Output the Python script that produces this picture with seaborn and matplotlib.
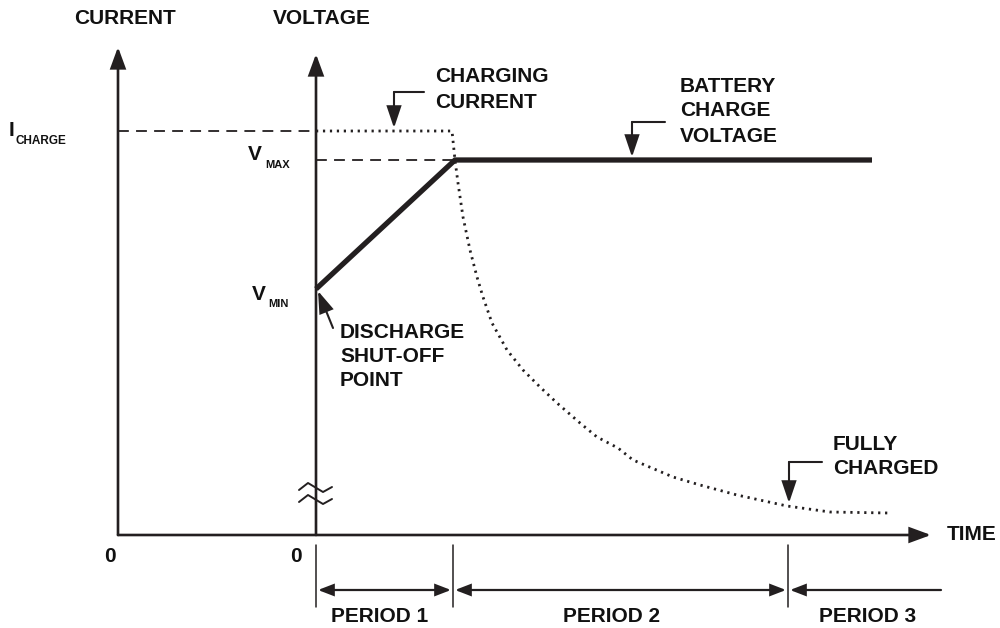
import matplotlib
matplotlib.use("Agg")
import matplotlib.pyplot as plt
import pandas as pd
import seaborn as sns

# ---- schematic data (time 0 = start of charging, level 0 = time axis) ----
period_edges = [0, 137, 472]
period_names = ["PERIOD 1", "PERIOD 2", "PERIOD 3"]
i_charge = 404
v_max = 375
v_min = 246

voltage_time = [0, 139, 556]
voltage_level = [v_min, v_max, v_max]

current_time = [0, 136, 139, 142, 147, 154, 161, 167, 176, 191, 207, 224,
                241, 264, 281, 302, 317, 357, 384, 421, 471, 514, 572]
current_level = [i_charge, i_charge, 375, 352, 318, 285, 258, 238, 212, 185,
                 165, 148, 132, 112, 98, 87, 75, 58, 50, 40, 29, 23, 22]

current_axis_time = -198
time_axis_end = 615
current_axis_top = 488
voltage_axis_top = 481

INK = "#231f20"
TXT = "#111111"
FS = 15

sns.set_style("white")
plt.rcParams["font.family"] = ["Liberation Sans", "DejaVu Sans"]

W, H = 1000, 628
fig = plt.figure(figsize=(W / 100, H / 100), dpi=100)
ax = fig.add_axes([0, 0, 1, 1])
# x: time (0 at the voltage axis), y: level (0 at the time axis)
ax.set_xlim(-316, W - 316)
ax.set_ylim(535 - H, 535)
ax.axis("off")


def P(px, py):
    """Layout position given from the top-left corner of the canvas."""
    return px - 316, 535 - py


def arrow(start, tip, lw=1.8, hl=0.9, hw=0.33, both=False):
    style = "<|-|>" if both else "-|>"
    ax.annotate("", xy=tip, xytext=start,
                arrowprops=dict(arrowstyle=f"{style},head_length={hl},head_width={hw}",
                                mutation_scale=14, lw=lw, color=INK,
                                shrinkA=0, shrinkB=0, joinstyle="miter"))


def label(px, py, s, size=FS, ha="left"):
    x, y = P(px, py)
    ax.text(x, y, s, fontsize=size, fontweight="bold", ha=ha, va="center",
            color=TXT)


# ---- axes of the diagram ----
arrow((current_axis_time, 0), (current_axis_time, current_axis_top), lw=1.9)
arrow((0, 0), (0, voltage_axis_top), lw=1.9)
arrow((current_axis_time, 0), (time_axis_end, 0), lw=1.9)

# ---- reference levels ----
ax.plot([current_axis_time, 0], [i_charge, i_charge], color=INK, lw=1.3,
        dashes=(6, 4))
ax.plot([0, voltage_time[1]], [v_max, v_max], color=INK, lw=1.3, dashes=(6, 4))

# ---- charging current and battery voltage ----
cur = pd.DataFrame({"time": current_time, "level": current_level})
volt = pd.DataFrame({"time": voltage_time, "level": voltage_level})
sns.lineplot(data=cur, x="time", y="level", sort=False, estimator=None,
             color=INK, lw=2.0, ax=ax, linestyle=(0, (0.8, 1.7)),
             dash_capstyle="butt")
sns.lineplot(data=volt, x="time", y="level", sort=False, estimator=None,
             color=INK, lw=3.8, ax=ax, solid_capstyle="butt",
             solid_joinstyle="miter")

# ---- axis break on the voltage axis ----
for off in (0, 12):
    xs, ys = zip(*[P(299, 490 + off), P(308, 483 + off),
                   P(323, 492 + off), P(332, 487 + off)])
    ax.plot(xs, ys, color=INK, lw=1.4, solid_joinstyle="round")

# ---- periods below the time axis ----
tick_top, tick_bot = P(0, 545)[1], P(0, 607)[1]
arrow_y = P(0, 590)[1]
for t in period_edges:
    ax.plot([t, t], [tick_bot, tick_top], color=INK, lw=1.1)
arrow((period_edges[0] + 2, arrow_y), (period_edges[1] - 2, arrow_y),
      lw=1.6, hl=0.65, hw=0.25, both=True)
arrow((period_edges[1] + 2, arrow_y), (period_edges[2] - 2, arrow_y),
      lw=1.6, hl=0.65, hw=0.25, both=True)
arrow((P(941, 0)[0], arrow_y), (period_edges[2] + 2, arrow_y),
      lw=1.6, hl=0.65, hw=0.25)
for cx, name in zip([380, 612, 868], period_names):
    label(cx, 616, name, ha="center")

# ---- axis titles and level labels ----
label(125, 18, "CURRENT", ha="center")
label(322, 18, "VOLTAGE", ha="center")
label(110, 556, "0", ha="center")
label(296, 556, "0", ha="center")
label(947, 535, "TIME")

label(9, 131, "I")
label(16, 141, "CHARGE", size=8.5)
label(248, 155, "V")
label(265, 165, "MAX", size=8)
label(252, 294, "V")
label(268, 304, "MIN", size=8)

# ---- callouts ----
def bent_callout(corner, tail_px, tip_px):
    cx, cy = P(*corner)
    tx, _ = P(*tail_px)
    ax.plot([cx, tx], [cy, cy], color=INK, lw=1.5)
    arrow((cx, cy), P(*tip_px), lw=1.5, hl=0.95, hw=0.32)


bent_callout((394, 92), (424, 92), (394, 128))
label(435, 77, "CHARGING")
label(435, 102, "CURRENT")

bent_callout((632, 122), (665, 122), (632, 157))
label(680, 86, "BATTERY")
label(680, 111, "CHARGE")
label(680, 136, "VOLTAGE")

bent_callout((789, 462), (822, 462), (789, 503))
label(833, 444, "FULLY")
label(833, 469, "CHARGED")

arrow(P(333, 328), P(318, 291), lw=1.5, hl=0.95, hw=0.32)
label(340, 332, "DISCHARGE")
label(340, 356, "SHUT-OFF")
label(340, 381, "POINT")

fig.savefig("out.png", dpi=100, facecolor="white")
